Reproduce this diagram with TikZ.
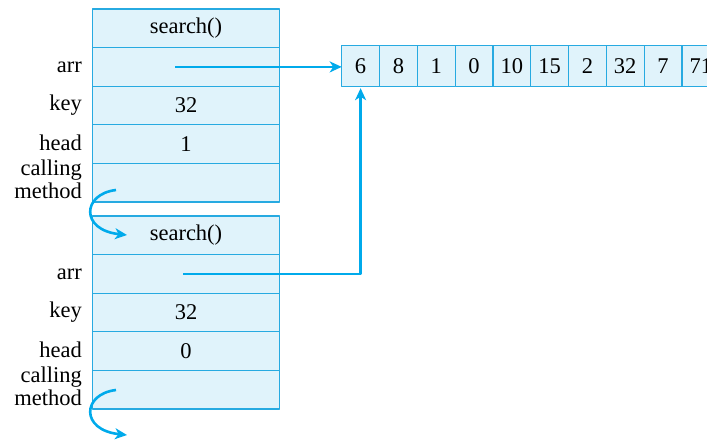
\documentclass[tikz,border=0pt]{standalone}
\usepackage{fontspec}
\setmainfont{Liberation Serif}
\usetikzlibrary{arrows.meta,positioning}
\definecolor{frameblue}{RGB}{39,170,225}
\definecolor{cellfill}{RGB}{224,243,251}
\definecolor{ptrblue}{RGB}{0,170,235}
\begin{document}
\begin{tikzpicture}[x=1pt, y=-1pt, font=\fontsize{22.5}{23}\selectfont, line join=round,
	>={Stealth[length=12pt,width=11pt,inset=3.5pt]},
	slot/.style={draw=frameblue, fill=cellfill, line width=1.2pt, outer sep=0pt, inner sep=0pt, minimum width=186.6pt, minimum height=38.6pt},
	box/.style={draw=frameblue, fill=cellfill, line width=1.2pt, outer sep=0pt, inner sep=0pt, minimum width=37.8pt, minimum height=41pt, anchor=north west},
	lbl/.style={anchor=east, align=right, inner sep=0pt},
	ptr/.style={draw=ptrblue, line width=2.6pt}]
	\useasboundingbox (0,0) rectangle (707,440);
	% the array
	\foreach \v [count=\i from 0] in {6,8,1,0,10,15,2,32,7,71}
	\node[box] (a\i) at ({341.7+37.8*\i},45.7) {\v};
	% the two frames
	\foreach \f/\y/\h in {1/9/1, 2/216/0}{
		\node[slot, anchor=north west] (f\f-0) at (92.7,\y) {search()};
		\node[slot, below=0pt of f\f-0] (f\f-1) {};
		\node[slot, below=0pt of f\f-1] (f\f-2) {32};
		\node[slot, below=0pt of f\f-2] (f\f-3) {\h};
		\node[slot, below=0pt of f\f-3] (f\f-4) {};
		\node[lbl] (arr\f) at ([xshift=-10.7pt]f\f-1.west) {arr};
		\node[lbl] (key\f) at ([xshift=-10.7pt]f\f-2.west) {key};
		\node[lbl] (head\f) at ([xshift=-10.7pt,yshift=1pt]f\f-3.west) {head};
		\node[lbl] (call\f) at ([xshift=-10.7pt,yshift=3pt]f\f-4.west) {calling\\method};
	}
	% return arrows
	\foreach \f/\c in {1/190, 2/390}{
		\coordinate (c\f) at (116,\c);
		\coordinate (d\f) at (127,\c+45);
		\draw[ptr,->] (c\f) .. controls (82,\c+4) and (80,\c+40) .. (d\f);
	}
	% pointers to the array
	\coordinate (p1) at ([xshift=-11pt]f1-1.center);
	\coordinate (p2) at ([xshift=-3pt]f2-1.center);
	\draw[ptr,->] (p1) -- (p1 -| a0.west);
	\draw[ptr,->] (p2) -| ([yshift=-1.5pt]a0.south);
\end{tikzpicture}
\end{document}
